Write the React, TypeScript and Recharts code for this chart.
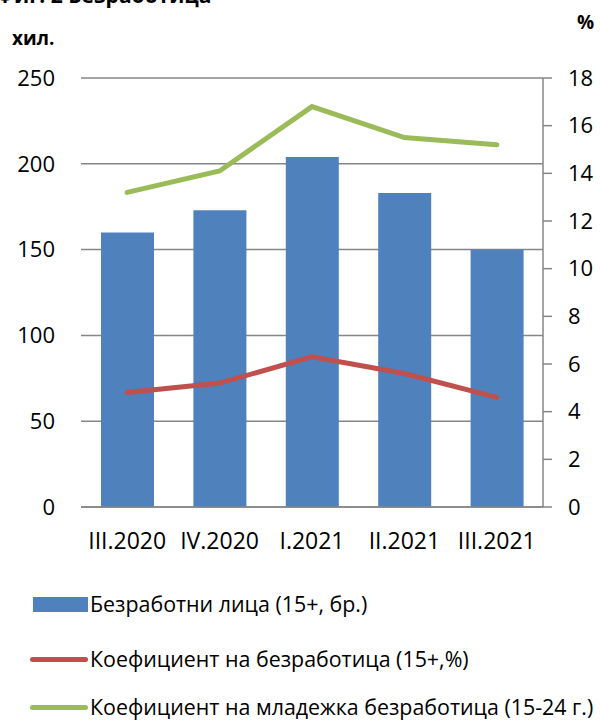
import React from "react";
import {
  ComposedChart,
  Bar,
  Line,
  XAxis,
  YAxis,
  CartesianGrid,
} from "recharts";

const quarters = ["III.2020", "IV.2020", "I.2021", "II.2021", "III.2021"];
const unemployed = [160, 173, 204, 183, 150];
const rate = [4.8, 5.2, 6.3, 5.6, 4.6];
const youthRate = [13.2, 14.1, 16.8, 15.5, 15.2];
const leftTicks = [0, 50, 100, 150, 200, 250];
const rightTicks = [0, 2, 4, 6, 8, 10, 12, 14, 16, 18];

const data = quarters.map((q, i) => ({
  q,
  unemployed: unemployed[i],
  rate: rate[i],
  youth: youthRate[i],
}));

const font = "'Open Sans', sans-serif";
const gray = "#868686";

const legendItems = [
  { label: "Безработни лица (15+, бр.)", color: "#4F81BD", kind: "bar", top: 604 },
  { label: "Коефициент на безработица (15+,%)", color: "#C0504D", kind: "line", top: 659 },
  { label: "Коефициент на младежка безработица (15-24 г.)", color: "#9BBB59", kind: "line", top: 707 },
];

export default function App() {
  return (
    <div
      style={{
        position: "absolute",
        left: 0,
        top: 0,
        width: 600,
        height: 722,
        overflow: "hidden",
        fontFamily: font,
        background: "#fff",
      }}
    >
      <div
        style={{
          position: "absolute",
          left: -4,
          top: -16,
          fontSize: 21,
          lineHeight: "22px",
          fontWeight: 700,
          whiteSpace: "nowrap",
        }}
      >
        Фиг. 2 Безработица
      </div>
      <div style={{ position: "absolute", left: 12, top: 26, fontSize: 19, lineHeight: "24px", fontWeight: 700 }}>хил.</div>
      <div style={{ position: "absolute", left: 577, top: 10, fontSize: 19, lineHeight: "24px", fontWeight: 700 }}>%</div>

      <div style={{ position: "absolute", left: 0, top: 0 }}>
        <ComposedChart
          width={600}
          height={560}
          data={data}
          margin={{ top: 78, right: 7, bottom: 23, left: 21 }}
        >
          <CartesianGrid yAxisId="left" vertical={false} stroke={gray} strokeWidth={1.5} />
          <XAxis
            dataKey="q"
            height={30}
            axisLine={{ stroke: gray, strokeWidth: 1.5 }}
            tickLine={false}
            tickSize={0}
            tickMargin={26}
            tick={{ fill: "#000", fontSize: 23, fontFamily: font }}
            interval={0}
          />
          <YAxis
            yAxisId="left"
            width={60}
            domain={[0, 250]}
            ticks={leftTicks}
            axisLine={false}
            tickLine={false}
            tickSize={0}
            tickMargin={26}
            tick={{ fill: "#000", fontSize: 22, fontFamily: font }}
          />
          <YAxis
            yAxisId="right"
            orientation="right"
            width={50}
            domain={[0, 18]}
            ticks={rightTicks}
            axisLine={{ stroke: gray, strokeWidth: 1.5 }}
            tickLine={{ stroke: gray, strokeWidth: 1.5 }}
            tickSize={9}
            tickMargin={16}
            tick={{ fill: "#000", fontSize: 22, fontFamily: font, textAnchor: "start" }}
          />
          <Bar
            yAxisId="left"
            dataKey="unemployed"
            fill="#4F81BD"
            barSize={53}
            isAnimationActive={false}
          />
          <Line
            yAxisId="right"
            dataKey="rate"
            stroke="#C0504D"
            strokeWidth={5}
            dot={false}
            strokeLinecap="round"
            isAnimationActive={false}
          />
          <Line
            yAxisId="right"
            dataKey="youth"
            stroke="#9BBB59"
            strokeWidth={5}
            dot={false}
            strokeLinecap="round"
            isAnimationActive={false}
          />
        </ComposedChart>
      </div>

      {legendItems.map((it) => (
        <div
          key={it.label}
          style={{
            position: "absolute",
            left: 30,
            top: it.top - 11,
            height: 22,
            lineHeight: "22px",
            display: "flex",
            alignItems: "center",
            whiteSpace: "nowrap",
            fontSize: 21.4,
          }}
        >
          {it.kind === "bar" ? (
            <div style={{ width: 55, height: 15, background: it.color, marginLeft: 3 }} />
          ) : (
            <div style={{ width: 58, height: 5, borderRadius: 3, background: it.color }} />
          )}
          <span style={{ marginLeft: 2 }}>{it.label}</span>
        </div>
      ))}
    </div>
  );
}
